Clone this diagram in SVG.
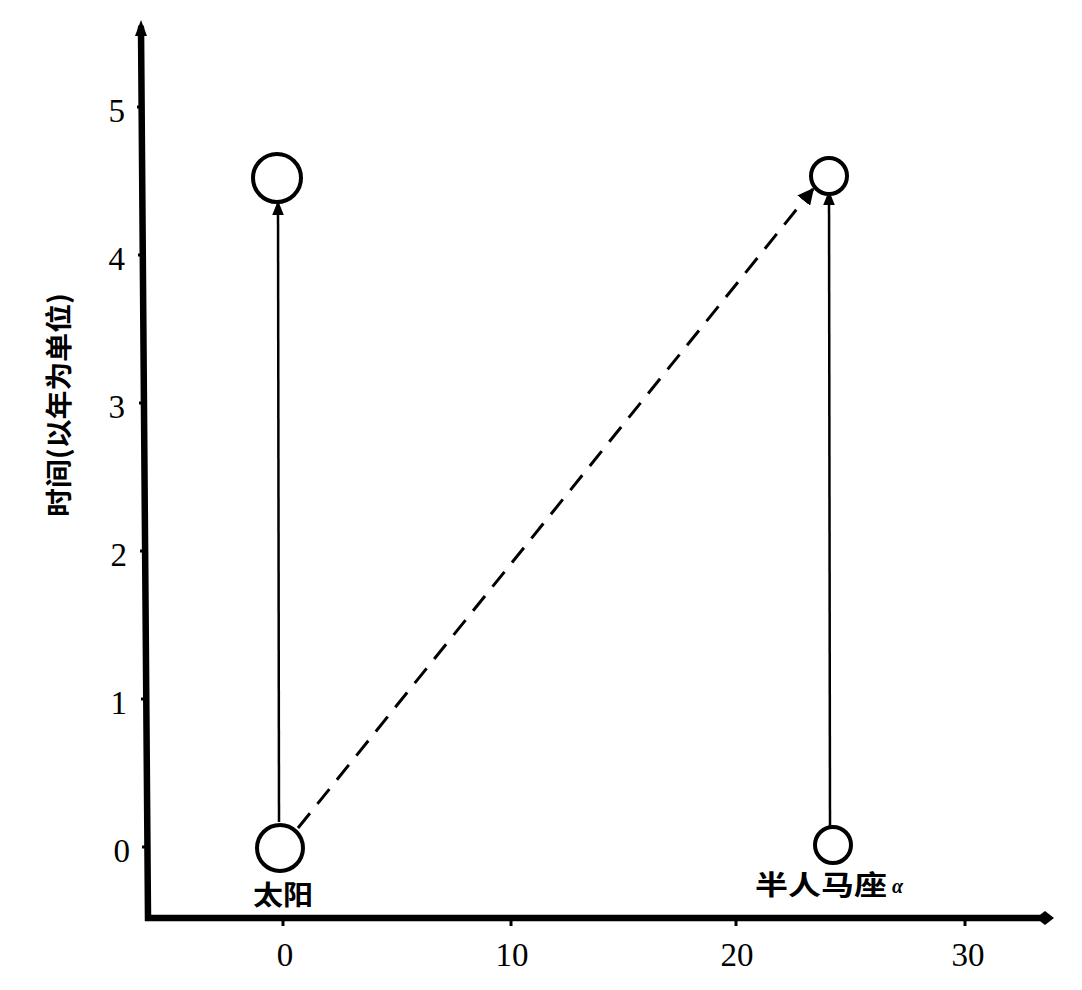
<svg xmlns="http://www.w3.org/2000/svg" width="1082" height="990" viewBox="0 0 1082 990">
<defs>
<style>
.axis{stroke:#000;stroke-width:6.5;fill:none;stroke-linecap:round}
.tick{stroke:#000;stroke-width:3}
.num{font-family:"Liberation Serif",serif;font-size:33px;fill:#000}
.lbl{font-family:"Noto Sans CJK SC","Noto Sans",sans-serif;font-weight:bold;font-size:27px;fill:#000}
.node{fill:#fff;stroke:#000;stroke-width:4}
.world{stroke:#000;stroke-width:2.5;fill:none}
.dash{stroke:#000;stroke-width:3;fill:none;stroke-dasharray:19 12}
</style>
<marker id="ah" viewBox="0 0 10 10" refX="9" refY="5" markerWidth="6" markerHeight="6" orient="auto" markerUnits="strokeWidth">
<path d="M0,1 L10,5 L0,9 Z" fill="#000"/>
</marker>
<marker id="ahd" viewBox="0 0 10 10" refX="9" refY="5" markerWidth="5.5" markerHeight="5.5" orient="auto" markerUnits="strokeWidth">
<path d="M0,0 L10,5 L0,10 Z" fill="#000"/>
</marker>
</defs>
<rect width="1082" height="990" fill="#fff"/>
<g id="axes">
<path class="axis" d="M141,28 L148,918 L1040,918"/>
<path d="M135,36 L141,20 L147,36 Z" fill="#000"/>
<path d="M1036,918 L1045,911 L1054,918 L1045,925 Z" fill="#000"/>
<g class="tick">
<line x1="137" y1="107" x2="142" y2="107"/>
<line x1="138" y1="255" x2="143" y2="255"/>
<line x1="139" y1="403" x2="144" y2="403"/>
<line x1="140" y1="551" x2="145" y2="551"/>
<line x1="141" y1="699" x2="146" y2="699"/>
<line x1="142" y1="847" x2="147" y2="847"/>
<line x1="283" y1="918" x2="283" y2="926"/>
<line x1="511" y1="918" x2="511" y2="926"/>
<line x1="736" y1="918" x2="736" y2="926"/>
<line x1="965" y1="918" x2="965" y2="926"/>
</g>
<g class="num" text-anchor="end">
<text x="125" y="122">5</text>
<text x="125" y="270">4</text>
<text x="125" y="418">3</text>
<text x="127" y="566">2</text>
<text x="127" y="714">1</text>
<text x="130" y="862">0</text>
</g>
<g class="num" text-anchor="middle">
<text x="285" y="966">0</text>
<text x="512" y="966">10</text>
<text x="737" y="966">20</text>
<text x="968" y="966">30</text>
</g>
<text class="lbl" font-size="30" transform="translate(69,405) rotate(-90)" text-anchor="middle" textLength="224" lengthAdjust="spacingAndGlyphs">时间(以年为单位)</text>
</g>
<g id="connectors">
<line class="world" x1="279" y1="822" x2="278" y2="202" marker-end="url(#ah)"/>
<line class="world" x1="830" y1="826" x2="829" y2="192" marker-end="url(#ah)"/>
<line class="dash" x1="298" y1="828" x2="813" y2="189" marker-end="url(#ahd)"/>
</g>
<g id="sun-start">
<circle class="node" cx="280" cy="848" r="23"/>
<text class="lbl" x="253" y="905" textLength="60" lengthAdjust="spacingAndGlyphs">太阳</text>
</g>
<g id="sun-end">
<circle class="node" cx="277" cy="178" r="24"/>
</g>
<g id="alpha-start">
<circle class="node" cx="833" cy="845" r="18"/>
<text class="lbl" x="755" y="895"><tspan textLength="132" lengthAdjust="spacingAndGlyphs">半人马座</tspan><tspan font-family="Liberation Serif,serif" font-style="italic" font-weight="bold" font-size="20" dx="5" dy="-2">α</tspan></text>
</g>
<g id="alpha-end">
<circle class="node" cx="829" cy="176" r="18"/>
</g>
</svg>
